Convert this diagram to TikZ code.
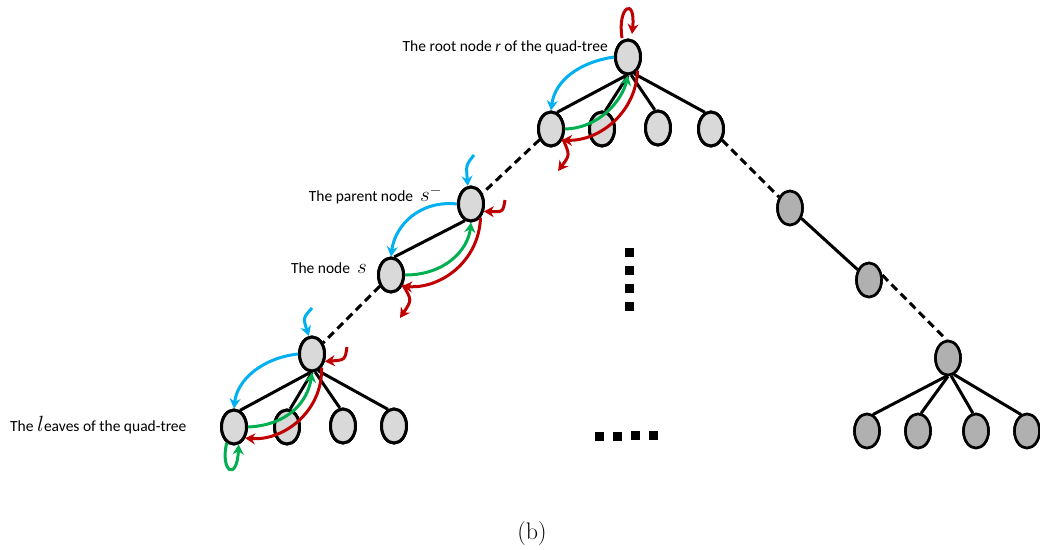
\RequirePackage{fix-cm}
\documentclass[tikz,border=0pt]{standalone}
\usepackage{fontspec}
\newfontfamily\calibri{Carlito}
\usetikzlibrary{shapes.geometric,arrows.meta}
\definecolor{arrblue}{HTML}{00B0F0}
\definecolor{arrgreen}{HTML}{00B050}
\definecolor{arrred}{HTML}{C00000}
\definecolor{lightnode}{HTML}{D9D9D9}
\definecolor{darknode}{HTML}{B0B0B0}
\tikzset{
  tnode/.style={ellipse,draw=black,line width=3pt,fill=lightnode,minimum width=25pt,minimum height=34pt,inner sep=0pt},
  gnode/.style={tnode,fill=darknode,line width=2.6pt},
  edge/.style={line width=3pt,black},
  dedge/.style={edge,dash pattern=on 8pt off 5pt},
  arr/.style={line width=3pt,-{Stealth[length=10pt,width=11pt]}},
  lab/.style={font=\calibri\fontsize{15.5}{17}\selectfont,inner sep=0pt},
  sq/.style={fill=black,minimum size=9pt,inner sep=0pt}
}
\begin{document}
\begin{tikzpicture}[x=1pt,y=-1pt]
\useasboundingbox (0,0) rectangle (1040,549);
% left / main tree nodes
\node[tnode] (root) at (628,57) {};
\node[tnode] (c1) at (551,129) {};
\node[tnode] (c2) at (602,129) {};
\node[tnode] (c3) at (658,128) {};
\node[tnode] (c4) at (711,129) {};
\node[tnode] (p) at (471,204) {};
\node[tnode] (s) at (391,275) {};
\node[tnode] (n3) at (312,354) {};
\node[tnode] (l1) at (234,427) {};
\node[tnode] (l2) at (287,427) {};
\node[tnode] (l3) at (343,426) {};
\node[tnode] (l4) at (394,426) {};
% right branch
\node[gnode] (r1) at (790,208) {};
\node[gnode] (r2) at (869,280) {};
\node[gnode] (r3) at (948,358) {};
\node[gnode] (g1) at (867,431) {};
\node[gnode] (g2) at (918,431) {};
\node[gnode] (g3) at (976,431) {};
\node[gnode] (g4) at (1027,431) {};
% edges
\draw[edge] (root.-95) -- (c1.70);
\draw[edge] (root.-90) -- (c2.80);
\draw[edge] (root.-80) -- (c3.100);
\draw[edge] (root.-70) -- (c4.110);
\draw[dedge] (c1) -- (p);
\draw[edge] (p.-110) -- (s.80);
\draw[dedge] (s) -- (n3);
\draw[edge] (n3.-95) -- (l1.70);
\draw[edge] (n3.-90) -- (l2.80);
\draw[edge] (n3.-80) -- (l3.100);
\draw[edge] (n3.-70) -- (l4.110);
\draw[dedge] (c4) -- (r1);
\draw[edge] (r1) -- (r2);
\draw[dedge] (r2.20) -- (r3.95);
\draw[edge] (r3.-95) -- (g1.70);
\draw[edge] (r3.-90) -- (g2.80);
\draw[edge] (r3.-80) -- (g3.100);
\draw[edge] (r3.-70) -- (g4.110);
% redraw nodes on top of edges
\foreach \n in {root,c1,c2,c3,c4,p,s,n3,l1,l2,l3,l4}{\node[tnode] at (\n) {};}
\foreach \n in {r1,r2,r3,g1,g2,g3,g4}{\node[gnode] at (\n) {};}
% free arrow ends
\coordinate (rl1) at (622,38);
\coordinate (rl2) at (632,34);
\coordinate (a1) at (558,171);
\coordinate (bp) at (474,155);
\coordinate (rp) at (505,200);
\coordinate (a2) at (400,318);
\coordinate (bn) at (312,308);
\coordinate (rn) at (347,347);
% root level arrows
\draw[arr,arrred] (rl1) .. controls (617,6) and (636,-4) .. (rl2);
\draw[arr,arrblue] (root.west) .. controls (580,62) and (555,80) .. (c1.90);
\draw[arr,arrgreen] (c1.east) .. controls (600,128) and (622,100) .. (root.-90);
\draw[arr,arrred] (root.-55) .. controls (636,112) and (600,141) .. (c1.-45);
\draw[arr,arrred] (c1.-40) .. controls (570,155) .. (a1);
% parent level arrows
\draw[arr,arrblue] (bp) .. controls (466,165) .. (p.100);
\draw[arr,arrred] (rp) .. controls (503,212) .. (p.-30);
\draw[arr,arrblue] (p.west) .. controls (420,200) and (395,225) .. (s.90);
\draw[arr,arrgreen] (s.east) .. controls (445,275) and (468,250) .. (p.-90);
\draw[arr,arrred] (p.-55) .. controls (479,262) and (440,289) .. (s.-45);
\draw[arr,arrred] (s.-40) .. controls (412,300) .. (a2);
% leaf level arrows
\draw[arr,arrblue] (bn) .. controls (303,318) .. (n3.100);
\draw[arr,arrred] (rn) .. controls (345,360) .. (n3.-30);
\draw[arr,arrblue] (n3.west) .. controls (262,358) and (237,380) .. (l1.90);
\draw[arr,arrgreen] (l1.east) .. controls (290,425) and (308,400) .. (n3.-90);
\draw[arr,arrred] (n3.-55) .. controls (323,410) and (285,441) .. (l1.-45);
\draw[arr,arrgreen] (l1.-115) .. controls (220,472) and (237,482) .. (l1.-75);
% dots
\node[sq] (v1) at (629,252) {};
\node[sq] (v2) at (629,270) {};
\node[sq] (v3) at (629,288) {};
\node[sq] (v4) at (629,306) {};
\node[sq] (h1) at (599,436) {};
\node[sq] (h2) at (617,436) {};
\node[sq] (h3) at (635,435) {};
\node[sq] (h4) at (653,435) {};
% labels
\node[lab,anchor=east] (t1) at (608,47) {The root node \textit{r} of the quad-tree};
\node[lab,anchor=east] (t2) at (442,195) {The parent node\ \ {\fontsize{21}{22}\selectfont$s^{-}$}};
\node[lab,anchor=east] (t3) at (367,268) {The node\ \ {\fontsize{21}{22}\selectfont$s$}};
\node[lab,anchor=west] (t4) at (10,425) {The {\fontsize{22}{22}\selectfont$l$}eaves of the quad-tree};
\node[font=\fontsize{24}{28}\selectfont,inner sep=0pt] (cap) at (532,534) {(b)};
\end{tikzpicture}
\end{document}
